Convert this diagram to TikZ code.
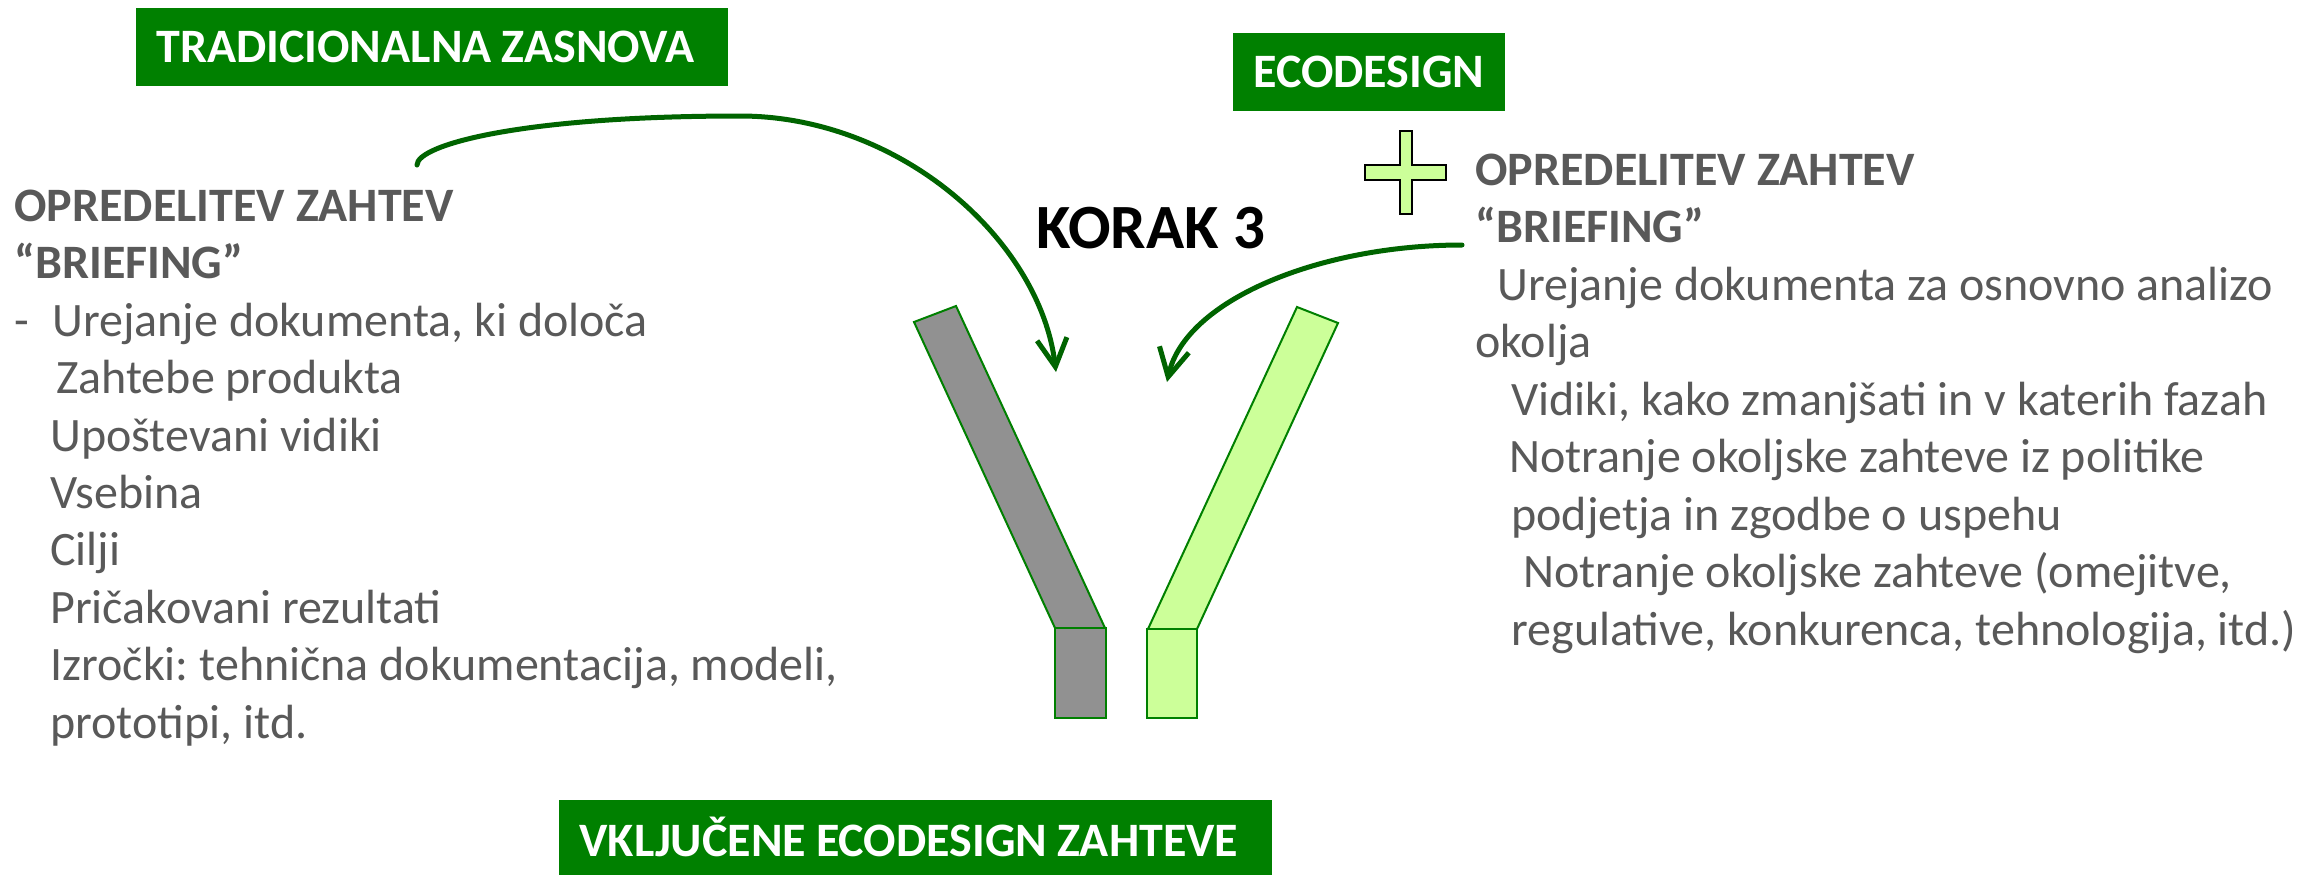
\documentclass[tikz,border=0pt]{standalone}
\usepackage{fontspec}
\setmainfont{Carlito}
\usetikzlibrary{arrows.meta}
\definecolor{boxgreen}{RGB}{0,128,0}
\definecolor{arrowgreen}{RGB}{0,100,0}
\definecolor{txtgray}{RGB}{89,89,89}
\definecolor{barfill}{RGB}{145,145,145}
\definecolor{lightgreen}{RGB}{204,255,153}
\definecolor{baredge}{RGB}{0,128,0}
\frenchspacing
\newcommand\tightwordspace{\spaceskip=5pt plus 1pt minus 1pt\relax}
\begin{document}
\begin{tikzpicture}[x=0.5pt,y=-0.5pt,
  labelbox/.style={fill=boxgreen, text=white,
    font=\fontsize{24}{28}\selectfont\bfseries, execute at begin node=\tightwordspace,
    inner xsep=10pt, inner ysep=0pt, align=left, text height=15.4pt, text depth=0pt},
  txt/.style={text=txtgray, font=\fontsize{24}{28}\selectfont, inner sep=0pt, anchor=base west},
  txtb/.style={text=txtgray, font=\fontsize{24}{28}\selectfont\bfseries, inner sep=0pt, anchor=base west},
  flow/.style={draw=arrowgreen, line width=2.5pt, line cap=round,
    -{Straight Barb[length=14pt,width=15pt]}},
  bar/.style={draw=baredge, line width=1pt, line join=miter},
]
\useasboundingbox (0,0) rectangle (2314,874);
\clip (0,0) rectangle (2314,874);
\fill[white] (0,0) rectangle (2314,874);

% green label boxes
\node[labelbox, text width=276pt, minimum width=296pt, minimum height=39pt, anchor=north west]
  (trad) at (136,8) {TRADICIONALNA ZASNOVA};
\node[labelbox, text width=116pt, minimum width=136pt, minimum height=39pt, anchor=north west]
  (eco) at (1233,33) {ECODESIGN};
\node[labelbox, text width=336.5pt, minimum width=356.5pt, minimum height=40.5pt, anchor=north west]
  (vkl) at (559,800) {VKLJUČENE ECODESIGN ZAHTEVE};

% title
\node[font=\fontsize{31.5}{36}\selectfont\bfseries, inner sep=0pt, anchor=base west]
  (korak) at (1036,248) {KORAK 3};

% plus sign
\draw[fill=lightgreen, line width=0.9pt, line join=miter]
  (1400,131) -- (1412,131) -- (1412,165) -- (1446,165) -- (1446,180) -- (1412,180)
  -- (1412,214) -- (1400,214) -- (1400,180) -- (1365,180) -- (1365,165) -- (1400,165) -- cycle;

% bars
\draw[bar, fill=barfill] (914,322) -- (956,306) -- (1105,628) -- (1055,628) -- cycle;
\draw[bar, fill=barfill] (1055,628) rectangle (1106,718);
\draw[bar, fill=lightgreen] (1297,307) -- (1338,323) -- (1197,629) -- (1148,629) -- cycle;
\draw[bar, fill=lightgreen] (1147,629) rectangle (1197,718);

% left text
\node[txtb] (lh1) at (14,221) {OPREDELITEV ZAHTEV};
\node[txtb] (lh2) at (14,278) {“BRIEFING”};
\node[txt] (l1) at (14,336) {\makebox[19pt][l]{-}Urejanje dokumenta, ki določa};
\node[txt] (l2) at (56,393) {Zahtebe produkta};
\node[txt] (l3) at (50,451) {Upoštevani vidiki};
\node[txt] (l4) at (50,508) {Vsebina};
\node[txt] (l5) at (50,565) {Cilji};
\node[txt] (l6) at (50,623) {Pričakovani rezultati};
\node[txt] (l7) at (50,680) {Izročki: tehnična dokumentacija, modeli,};
\node[txt] (l8) at (50,738) {prototipi, itd.};

% right text
\node[txtb] (rh1) at (1475,185) {OPREDELITEV ZAHTEV};
\node[txtb] (rh2) at (1475,242) {“BRIEFING”};
\node[txt] (r1) at (1497,300) {Urejanje dokumenta za osnovno analizo};
\node[txt] (r2) at (1475,357) {okolja};
\node[txt] (r3) at (1511,415) {Vidiki, kako zmanjšati in v katerih fazah};
\node[txt] (r4) at (1509,472) {Notranje okoljske zahteve iz politike};
\node[txt] (r5) at (1511,530) {podjetja in zgodbe o uspehu};
\node[txt] (r6) at (1523,587) {Notranje okoljske zahteve (omejitve,};
\node[txt] (r7) at (1511,645) {regulative, konkurenca, tehnologija, itd.)};

% arrows
\coordinate (ls) at (417,165);
\coordinate (lm) at (740,116);
\coordinate (le) at (1056,372);
\draw[flow] (ls) .. controls (417,145) and (520,116) .. (lm)
  .. controls (900,116) and (1040,240) .. (le);
\coordinate (rs) at (1462,245);
\coordinate (re) at (1167,382);
\draw[flow] (rs) .. controls (1320,245) and (1185,300) .. (re);
\end{tikzpicture}
\end{document}
